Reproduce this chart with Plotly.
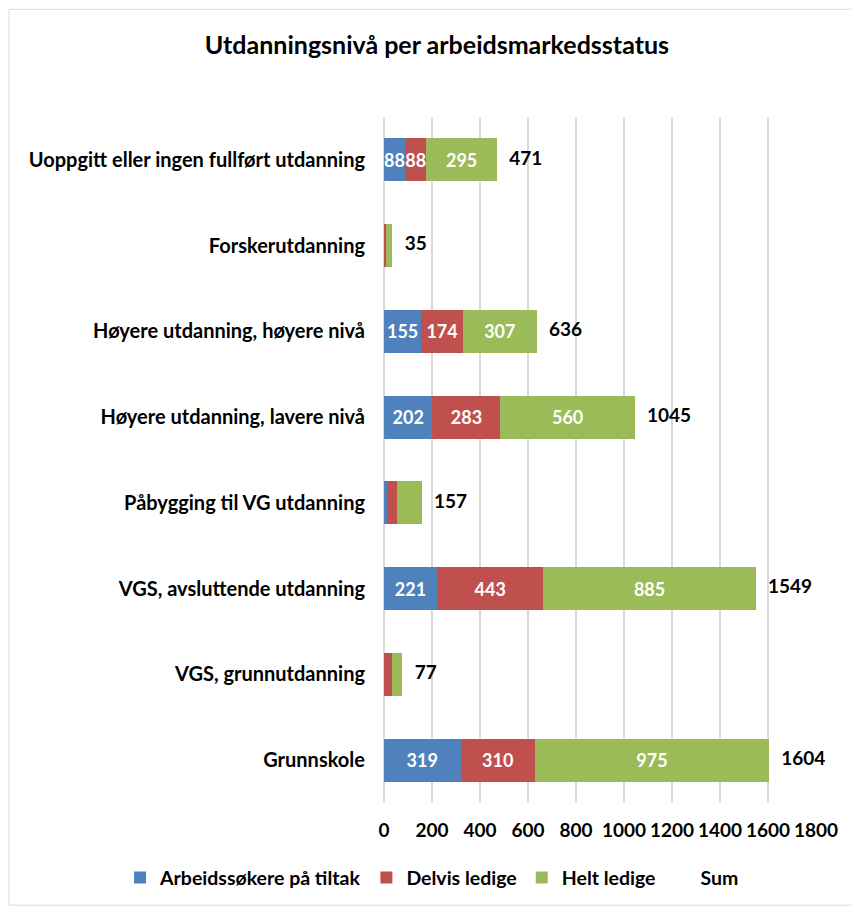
import plotly.graph_objects as go

# categories listed bottom -> top as in the chart
categories = [
    "Grunnskole",
    "VGS, grunnutdanning",
    "VGS, avsluttende utdanning",
    "Påbygging til VG utdanning",
    "Høyere utdanning, lavere nivå",
    "Høyere utdanning, høyere nivå",
    "Forskerutdanning",
    "Uoppgitt eller ingen fullført utdanning",
]
tiltak = [319, 2, 221, 14, 202, 155, 4, 88]
delvis = [310, 30, 443, 39, 283, 174, 4, 88]
helt = [975, 45, 885, 104, 560, 307, 27, 295]
totals = [1604, 77, 1549, 157, 1045, 636, 35, 471]

# small segments carry no label in the original
show_labels = [True, False, True, False, True, True, False, True]

FONT = "Lato"
series = [
    ("Arbeidssøkere på tiltak", tiltak, "#4F81BD"),
    ("Delvis ledige", delvis, "#C0504D"),
    ("Helt ledige", helt, "#9BBB59"),
]

fig = go.Figure()
for name, vals, col in series:
    fig.add_trace(go.Bar(
        name=name, y=categories, x=vals, orientation="h",
        marker=dict(color=col, line=dict(width=0)),
        text=[str(v) if s else "" for v, s in zip(vals, show_labels)],
        textposition="inside", insidetextanchor="middle",
        textangle=0, constraintext="none",
        insidetextfont=dict(color="white", size=18, family=FONT, weight="bold"),
        hoverinfo="x+name",
    ))

# Sum: invisible marker, label only
fig.add_trace(go.Scatter(
    name="Sum", y=categories, x=totals, mode="markers+text",
    marker=dict(color="rgba(0,0,0,0)", size=18),
    text=[str(t) for t in totals], textposition="middle right",
    textfont=dict(color="black", size=19, family=FONT, weight="bold"),
    cliponaxis=False,
))

# page body has an 8px margin, so the figure is a bit smaller than the window
fig.update_layout(
    barmode="stack",
    bargap=0.5,
    width=851, height=901,
    paper_bgcolor="white", plot_bgcolor="white",
    margin=dict(l=376, r=43, t=109, b=106, autoexpand=False),
    font=dict(family=FONT, color="black", size=16),
    title=dict(text="<b>Utdanningsnivå per arbeidsmarkedsstatus</b>",
               x=0.504, xanchor="center", y=0.959, yanchor="middle",
               font=dict(size=25, family=FONT, color="black")),
    xaxis=dict(range=[0, 1800], dtick=200, showgrid=True,
               gridcolor="#D9D9D9", gridwidth=2, zeroline=True,
               zerolinecolor="#D9D9D9", zerolinewidth=2,
               tickfont=dict(size=19, family=FONT, weight="bold"),
               ticks="", ticklabelstandoff=14, fixedrange=True),
    yaxis=dict(categoryorder="array", categoryarray=categories,
               range=[-0.5, len(categories) - 0.5],
               tickfont=dict(size=20, family=FONT, weight="bold"),
               ticks="", ticklabelstandoff=18, showgrid=False),
    # anchored left of the plot area so the row may use the full width
    legend=dict(orientation="h", x=-0.611, xanchor="left",
                y=-0.109, yanchor="middle",
                font=dict(size=19.5, family=FONT, weight="bold"),
                traceorder="normal", itemwidth=30),
    shapes=[dict(type="rect", xref="paper", yref="paper",
                 x0=-0.868, x1=1.090, y0=-0.149, y1=1.157,
                 line=dict(color="#D9D9D9", width=1))],
)

fig.write_html("out.html")
